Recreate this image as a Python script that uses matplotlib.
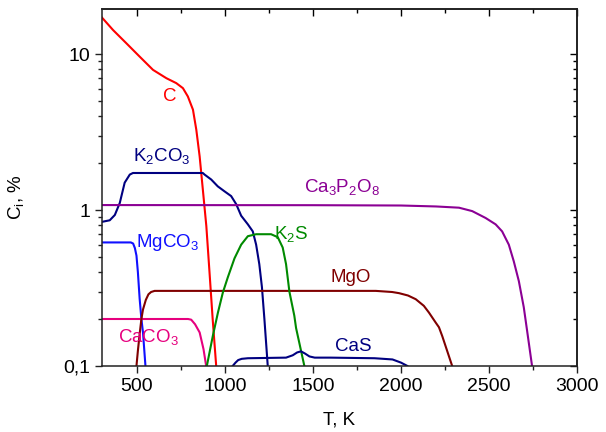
import matplotlib
matplotlib.use('Agg')
import matplotlib.pyplot as plt
from matplotlib.ticker import FixedLocator, NullFormatter, LogLocator

plt.rcParams['font.family'] = ['Liberation Sans', 'DejaVu Sans']
plt.rcParams['mathtext.fontset'] = 'custom'
plt.rcParams['mathtext.rm'] = 'Liberation Sans'
plt.rcParams['mathtext.it'] = 'Liberation Sans'
plt.rcParams['mathtext.default'] = 'rm'

# data (T in K, concentration in %)
C_T = [300, 364, 440, 515, 591, 667, 723, 761, 789, 818, 837, 856, 874, 894, 912, 930, 950]
C_v = [17.25, 14.3, 11.75, 9.66, 7.94, 7.02, 6.53, 6.06, 5.36, 4.41, 3.28, 2.21, 1.36, 0.79, 0.4, 0.2, 0.1]

K2CO3_T = [300, 345, 374, 402, 430, 459, 477, 874, 884, 922, 959, 997, 1035, 1064, 1092,
           1130, 1158, 1177, 1195, 1210, 1224, 1243]
K2CO3_v = [0.84, 0.86, 0.93, 1.11, 1.50, 1.69, 1.73, 1.73, 1.69, 1.57, 1.42, 1.32, 1.23, 1.09, 0.92,
           0.81, 0.73, 0.60, 0.45, 0.32, 0.2, 0.1]

Ca3P2O8_T = [300, 1500, 2000, 2200, 2330, 2405, 2481, 2538, 2575, 2613, 2641, 2670, 2698, 2717, 2745]
Ca3P2O8_v = [1.077, 1.075, 1.07, 1.055, 1.036, 0.985, 0.89, 0.81, 0.73, 0.60, 0.47, 0.35, 0.238, 0.168, 0.1]

MgCO3_T = [300, 465, 478, 488, 497, 505, 515, 525, 534, 548]
MgCO3_v = [0.62, 0.62, 0.61, 0.57, 0.51, 0.4, 0.27, 0.2, 0.164, 0.1]

CaCO3_T = [300, 790, 808, 830, 856, 878, 893]
CaCO3_v = [0.2, 0.2, 0.198, 0.185, 0.164, 0.128, 0.1]

MgO_T = [497, 505, 515, 525, 534, 550, 565, 580, 600, 1857, 1950, 1989, 2040, 2084, 2130,
         2159, 2197, 2216, 2235, 2291]
MgO_v = [0.1, 0.125, 0.16, 0.2, 0.23, 0.265, 0.288, 0.298, 0.303, 0.303, 0.298, 0.293, 0.283, 0.268, 0.243,
         0.22, 0.19, 0.177, 0.155, 0.1]

K2S_T = [897, 931, 960, 988, 1016, 1054, 1092, 1130, 1177, 1262, 1300, 1328, 1347, 1366, 1394, 1404, 1451]
K2S_v = [0.1, 0.156, 0.22, 0.296, 0.37, 0.49, 0.60, 0.68, 0.70, 0.70, 0.67, 0.575, 0.45, 0.30, 0.21, 0.175, 0.1]

CaS_T = [1044, 1060, 1075, 1095, 1130, 1347, 1385, 1410, 1432, 1455, 1480, 1510, 1600, 1850, 1952, 2000, 2036]
CaS_v = [0.1, 0.105, 0.109, 0.111, 0.112, 0.113, 0.117, 0.122, 0.124, 0.12, 0.115, 0.113, 0.113, 0.112, 0.11, 0.105, 0.1]

x_ticks = [500, 1000, 1500, 2000, 2500, 3000]
x_minor = [750, 1250, 1750, 2250, 2750]
y_ticks = [0.1, 1, 10]
y_ticklabels = ['0,1', '1', '10']

fig = plt.figure(figsize=(6.06, 4.32), dpi=100)
ax = fig.add_axes([0.168, 0.153, 0.784, 0.826])

lw = 1.5
ax.plot(C_T, C_v, color='#ff0000', lw=lw)
ax.plot(K2CO3_T, K2CO3_v, color='#000080', lw=lw)
ax.plot(Ca3P2O8_T, Ca3P2O8_v, color='#8b0094', lw=lw)
ax.plot(MgCO3_T, MgCO3_v, color='#1010ff', lw=lw)
ax.plot(CaCO3_T, CaCO3_v, color='#e6007e', lw=lw)
ax.plot(MgO_T, MgO_v, color='#800000', lw=lw)
ax.plot(K2S_T, K2S_v, color='#008a00', lw=lw)
ax.plot(CaS_T, CaS_v, color='#000080', lw=lw)

fs = 13.5
ax.text(685, 5.33, 'C', color='#ff0000', fontsize=fs, ha='center', va='center')
ax.text(476, 2.06, r'K$_2$CO$_3$', color='#000080', fontsize=fs, ha='left', va='baseline')
ax.text(1451, 1.30, r'Ca$_3$P$_2$O$_8$', color='#8b0094', fontsize=fs, ha='left', va='baseline')
ax.text(497, 0.58, r'MgCO$_3$', color='#1010ff', fontsize=fs, ha='left', va='baseline')
ax.text(1281, 0.65, r'K$_2$S', color='#008a00', fontsize=fs, ha='left', va='baseline')
ax.text(1602, 0.343, 'MgO', color='#800000', fontsize=fs, ha='left', va='baseline')
ax.text(393, 0.143, r'CaCO$_3$', color='#e6007e', fontsize=fs, ha='left', va='baseline')
ax.text(1627, 0.1255, 'CaS', color='#000080', fontsize=fs, ha='left', va='baseline')

ax.set_yscale('log')
ax.set_xlim(300, 3000)
ax.set_ylim(0.1, 19.5)

ax.xaxis.set_major_locator(FixedLocator(x_ticks))
ax.xaxis.set_minor_locator(FixedLocator(x_minor))
ax.yaxis.set_major_locator(FixedLocator(y_ticks))
ax.set_yticklabels(y_ticklabels)
ax.yaxis.set_minor_locator(LogLocator(base=10, subs=range(2, 10)))
ax.yaxis.set_minor_formatter(NullFormatter())

ax.tick_params(which='major', direction='out', length=5, width=1, labelsize=14, colors='#222222')
ax.tick_params(which='minor', direction='out', length=3, width=1, colors='#222222')
ax.tick_params(axis='both', labelcolor='black')

top = ax.secondary_xaxis('top')
top.xaxis.set_major_locator(FixedLocator(x_ticks))
top.xaxis.set_minor_locator(FixedLocator(x_minor))
top.tick_params(which='major', direction='in', length=5, width=1, labeltop=False)
top.tick_params(which='minor', direction='in', length=3, width=1)

right = ax.secondary_yaxis('right')
right.yaxis.set_major_locator(FixedLocator(y_ticks))
right.yaxis.set_minor_locator(LogLocator(base=10, subs=range(2, 10)))
right.yaxis.set_minor_formatter(NullFormatter())
right.tick_params(which='major', direction='in', length=5, width=1, labelright=False)
right.tick_params(which='minor', direction='in', length=3, width=1)

for s in ax.spines.values():
    s.set_linewidth(1.1)
    s.set_color('#222222')
top.spines['top'].set_linewidth(1.1)
right.spines['right'].set_linewidth(1.1)

ax.set_xlabel('T, K', fontsize=fs, labelpad=12)
ax.set_ylabel(r'C$_i$, %', fontsize=fs)
ax.yaxis.set_label_coords(-0.16, 0.473)

fig.savefig('out.png', dpi=100)
